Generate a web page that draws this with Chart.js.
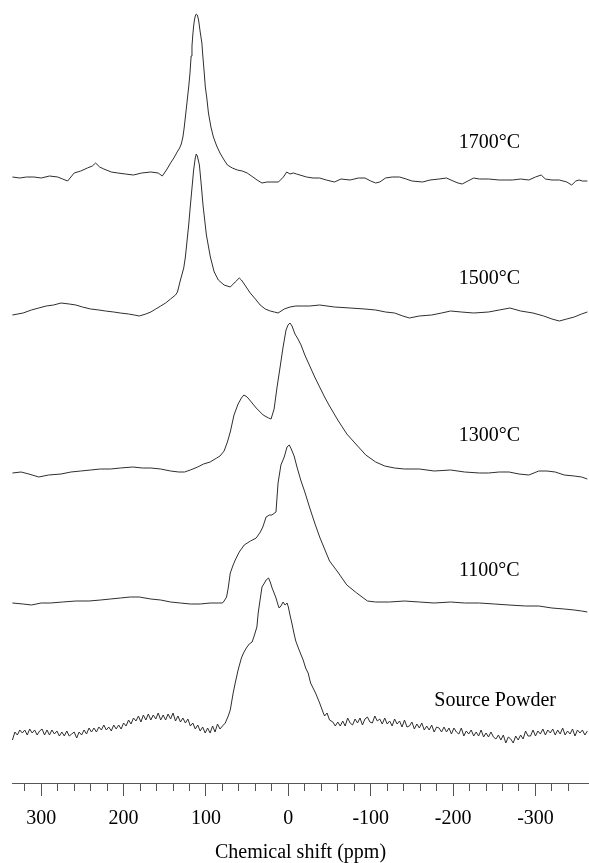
<!DOCTYPE html>
<html>
<head>
<meta charset="utf-8">
<script src="https://cdn.jsdelivr.net/npm/chart.js@4.4.0/dist/chart.umd.min.js"></script>
<style>
  html, body { margin: 0; padding: 0; background: #fff; }
  canvas { display: block; }
</style>
</head>
<body>
<canvas id="c" width="589" height="863"></canvas>
<script>
// ---- Data: [chemical shift (ppm), intensity (arb. units, relative to each trace's baseline)] ----
const s1700 = [[335,1],[326,0],[318,1],[309,1],[300,0],[290,2],[280,1],[274,-1],[268,-3],[264,1],[260,5],[252,7],[244,10],[238,12],[234,15],[229,11],[224,9],[215,6],[207,5],[198,4],[188,3],[178,5],[167,6],[158,5],[153,2],[148,8],[143,15],[139,20],[135,26],[132,30],[130,34],[128,41],[126.5,50],[125,61],[123,76],[121,91],[119.5,104],[118,122],[117,132],[116,143],[115,152],[114,158],[113,162],[111.8,164],[110.5,163],[109,158],[107,146],[105,135],[104,124],[102,104],[100.8,91],[99,80],[97,65],[94,51],[91,41],[87,32],[83,25],[78,18],[74,13],[68,10],[62,8],[56,7],[50,5],[43,1],[38,-2],[32,-5],[26,-4],[20,-4],[12,-4],[6,1],[2,6],[-2,4],[-6,5],[-10,4],[-14,3],[-22,1],[-30,0],[-38,0],[-46,-2],[-56,-4],[-64,-1],[-75,-2],[-85,0],[-93,0],[-100,-3],[-106,-5],[-111,-4],[-118,0],[-126,1],[-135,1],[-143,-1],[-150,-3],[-163,-4],[-172,-2],[-183,-1],[-192,0],[-200,-3],[-206,-5],[-211,-6],[-218,-3],[-225,0],[-232,-1],[-243,-1],[-256,-2],[-264,-2],[-272,-2],[-282,-1],[-292,-2],[-300,1],[-307,3],[-312,-1],[-320,-2],[-329,-2],[-338,-4],[-344,-7],[-349,-3],[-353,-2],[-357,-3],[-363,-3]];

const s1500 = [[335,-2],[322,0],[312,3],[303,5],[294,7],[285,8],[276,10],[266,9],[258,8],[250,6],[240,4],[230,3],[222,2],[212,1],[204,0],[194,-1],[187,-2],[181,-3],[173,-1],[167,1],[161,4],[155,7],[149,10],[143,14],[137,18],[134.6,21],[131,33],[127,45],[125,56],[121,88],[119,107],[115,143],[113,155],[111.8,159],[110.5,157],[108,148],[105.6,127],[103.5,107],[99.5,78],[94.7,56],[90,41],[85,33],[78,28],[70.5,26],[64.5,31],[59.6,35],[57,33],[53.6,29],[46.3,20],[40,14],[34.2,8],[28,4],[22,2],[17,1],[12.5,0],[5,4],[-2,6],[-9,7],[-18,7],[-26,7],[-38,8],[-56,6],[-75,5],[-93,4],[-106,3],[-118,1],[-129,0],[-139,-3],[-147,-5],[-159,-3],[-174,-2],[-186,0],[-197,2],[-210,1],[-225,0],[-243,1],[-256,3],[-269,5],[-282,2],[-297,0],[-310,-3],[-320,-6],[-329,-8],[-338,-6],[-347,-4],[-356,-1],[-363,1]];

const s1300 = [[335,-1],[324.5,0],[315,-2],[303,-5],[291,-3],[276,-2],[264,0],[252,1],[240,2],[228,3],[216,3],[204,4],[189,5],[177,4],[167,4],[155,3],[143,1],[133,0],[126,0],[119,2],[110,5],[103,8],[95,10],[87,14],[83,16],[78,21],[74,30],[70.5,40],[66,57],[61,68],[57,74],[54,77],[50,75],[45,70],[39,64],[30.6,57],[24,54],[21,53],[17.3,63],[13.7,85],[10,105],[6.4,125],[2.8,142],[0.4,147],[-2,149],[-4.5,146],[-8,138],[-11.7,133],[-15.4,127],[-20,117],[-26,106],[-32,95],[-38,85],[-44,75],[-50,66],[-60,52],[-71,38],[-83,27],[-94,17],[-106,10],[-117,6],[-129,4],[-141,3],[-159,3],[-177,1],[-197,2],[-214,0],[-232,-1],[-243,-1],[-256,0],[-268,0],[-280,-2],[-292,-3],[-304,1],[-314,1],[-324,0],[-335,-3],[-347,-4],[-356,-5],[-363,-7]];

const s1100 = [[335,0],[322,-1],[312,-2],[300,0],[289,0],[274,1],[258,2],[242,2],[228,3],[216,4],[204,5],[192,6],[181,6],[167,4],[155,3],[143,1],[131,0],[119,-1],[107,-1],[95,0],[85,0],[80,0],[78,2],[75,6],[73,15],[70.5,30],[67,38],[64.5,43],[59.6,51],[53.6,58],[46,62],[39,65],[34,71],[31,76],[27,86],[23,88],[20,88],[15,91],[12.5,120],[9,138],[5,146],[1.6,156],[-1,158],[-3,155],[-7,147],[-10.5,136],[-15,123],[-20,111],[-26,95],[-32,80],[-38,66],[-44,54],[-50,42],[-60,31],[-71,18],[-83,10],[-96,2],[-106,1],[-123,1],[-141,2],[-159,1],[-177,0],[-197,1],[-214,0],[-232,0],[-250,-1],[-268,-2],[-288,-3],[-304,-3],[-320,-5],[-335,-6],[-347,-7],[-356,-8],[-363,-9]];

const sSource = [[335,-12],[332,-4],[329,-7],[326,-2],[323,-5],[320,-2],[317,-7],[314,-1],[311,-5],[308,-2],[305,-7],[302,-3],[299,-1],[296,-7],[293,-2],[290,-7],[287,-2],[284,-6],[281,-3],[278,-8],[275,-4],[272,-8],[269,-3],[266,-8],[263,-6],[260,-4],[257,-10],[254,-4],[251,-7],[248,-2],[245,-6],[242,0],[239,-4],[236,0],[233,-4],[230,1],[227,-2],[224,3],[221,-2],[218,1],[215,-3],[212,3],[209,-1],[206,3],[203,-1],[200,5],[197,2],[194,8],[191,4],[188,10],[185,7],[182,12],[179,6],[176,13],[173,8],[170,14],[167,8],[164,13],[161,9],[158,15],[155,8],[152,13],[149,8],[146,14],[143,9],[140,15],[137,7],[134,12],[131,6],[128,10],[125,5],[122,9],[119,2],[116,5],[113,-1],[110,3],[107,-3],[104,1],[101,-5],[98,0],[95,-5],[92,2],[89,-4],[86,4],[83,-1],
[80,2],[76.6,5],[73,12],[70.5,18],[67,35],[64.5,45],[61,58],[57,70],[54.4,75],[51,80],[47.5,84],[44,86],[41.5,92],[38.2,101],[36.6,115],[34,130],[32,141],[29,145],[27,148],[24,150],[22,146],[19.7,140],[17.3,135],[15,130],[12.5,123],[11.2,120],[9,122],[6.4,126],[4,123],[1.6,125],[0,121],[-2,113],[-4.5,104],[-7,94],[-9,87],[-11.7,81],[-15,74],[-18,68],[-21,60],[-24,55],[-27,45],[-30,40],[-33,35],[-36,29],[-38,25],[-42,16],[-44,12],[-47,15],[-50,8],[-54,6],[-57,2],
[-60,6],[-63,2],[-66,7],[-69,2],[-72,10],[-75,5],[-78,3],[-81,9],[-84,5],[-87,10],[-90,3],[-93,9],[-96,11],[-99,6],[-102,5],[-105,12],[-108,7],[-111,9],[-114,4],[-117,10],[-120,4],[-123,7],[-126,2],[-129,9],[-132,4],[-135,7],[-138,1],[-141,8],[-144,1],[-147,2],[-150,6],[-153,-1],[-156,4],[-159,0],[-162,5],[-165,-2],[-168,2],[-171,-2],[-174,3],[-177,-4],[-180,1],[-183,0],[-186,-4],[-189,1],[-192,-4],[-195,0],[-198,-6],[-201,0],[-204,-4],[-207,-6],[-210,0],[-213,-8],[-216,-3],[-219,-6],[-222,-2],[-225,-8],[-228,-4],[-231,-8],[-234,-2],[-237,-9],[-240,-5],[-243,-9],[-246,-4],[-249,-9],[-252,-11],[-255,-7],[-258,-12],[-261,-7],[-264,-15],[-267,-9],[-270,-11],[-273,-15],[-276,-8],[-279,-12],[-282,-7],[-285,-11],[-288,-3],[-291,-8],[-294,-8],[-297,-2],[-300,-8],[-303,-3],[-306,-6],[-309,-1],[-312,-7],[-315,-2],[-318,-5],[-321,-1],[-324,-7],[-327,-2],[-330,-6],[-333,0],[-336,-7],[-339,-3],[-342,-6],[-345,-1],[-348,-8],[-351,-2],[-354,-5],[-357,-2],[-360,-7],[-363,-3]];

const seriesNames = ['1700°C', '1500°C', '1300°C', '1100°C', 'Source Powder'];
const seriesData = [s1700, s1500, s1300, s1100, sSource];
const offsets = [605, 470, 311, 180, 55];          // vertical stacking offset of each trace
const xTitle = 'Chemical shift (ppm)';

// ---- Label placement (annotation layout) ----
const labelPpm = [-244, -244, -244, -244, -251];
const labelLift = [35, 34, 36, 32, 27];

const serif = '"Liberation Serif", "Times New Roman", Times, serif';

const labelPlugin = {
  id: 'seriesLabels',
  afterDatasetsDraw(chart) {
    const {ctx, scales: {x, y}} = chart;
    ctx.save();
    ctx.font = '20px ' + serif;
    ctx.fillStyle = '#000';
    ctx.textAlign = 'center';
    ctx.textBaseline = 'middle';
    seriesNames.forEach((name, i) => {
      ctx.fillText(name, x.getPixelForValue(labelPpm[i]), y.getPixelForValue(offsets[i] + labelLift[i]));
    });
    ctx.restore();
  }
};

const datasets = seriesData.map((pts, i) => ({
  label: seriesNames[i],
  data: pts.map(([p, v]) => ({x: p, y: v + offsets[i]})),
  borderColor: '#2e2e2e',
  borderWidth: 1,
  pointRadius: 0,
  tension: 0,
  fill: false
}));

new Chart(document.getElementById('c'), {
  type: 'line',
  data: { datasets },
  plugins: [labelPlugin],
  options: {
    responsive: false,
    animation: false,
    events: [],
    layout: { padding: { left: 12, right: 0, top: 0, bottom: 0 } },
    plugins: { legend: { display: false }, tooltip: { enabled: false } },
    scales: {
      x: {
        type: 'linear',
        reverse: true,
        min: -365,
        max: 335.5,
        afterFit: s => { s.paddingLeft = 0; s.paddingRight = 0; },
        border: { display: true, color: '#555', width: 1 },
        grid: {
          drawOnChartArea: false,
          drawTicks: true,
          tickLength: 13,
          tickWidth: 1,
          tickColor: ctx => (ctx.tick && ctx.tick.value < -350) ? 'rgba(0,0,0,0)' : '#555',
          tickBorderDash: ctx => (ctx.tick && ctx.tick.value % 100 === 0) ? [] : [7, 40]
        },
        ticks: {
          stepSize: 20,
          includeBounds: false,
          autoSkip: false,
          maxRotation: 0,
          minRotation: 0,
          padding: 11,
          color: '#000',
          font: { family: serif, size: 20, lineHeight: 1.2 },
          callback: v => (v % 100 === 0) ? String(v) : ''
        },
        title: {
          display: true,
          text: xTitle,
          color: '#000',
          font: { family: serif, size: 20, lineHeight: 1.05 },
          padding: 0
        }
      },
      y: { display: false, min: 0, max: 783 }
    }
  }
});
</script>
</body>
</html>
